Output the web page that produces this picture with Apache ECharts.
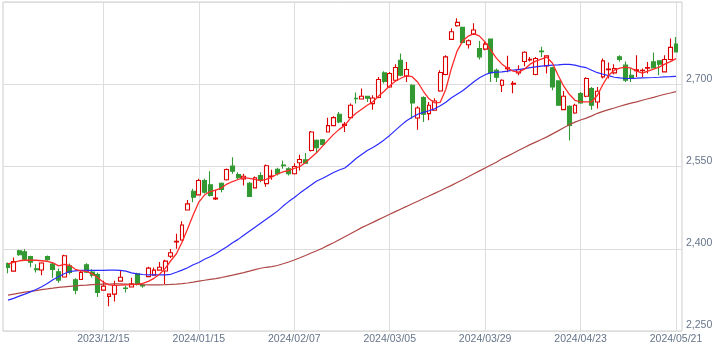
<!DOCTYPE html>
<html><head><meta charset="utf-8">
<script src="https://cdn.jsdelivr.net/npm/echarts@6/dist/echarts.min.js"></script>
<style>html,body{margin:0;padding:0;background:#fff}#c{width:725px;height:354px}</style>
</head><body><div id="c"></div>
<script>
const dates = [
'2023/11/21','2023/11/22','2023/11/24','2023/11/27','2023/11/28','2023/11/29','2023/11/30',
'2023/12/01','2023/12/04','2023/12/05','2023/12/06','2023/12/07','2023/12/08','2023/12/11','2023/12/12','2023/12/13','2023/12/14','2023/12/15',
'2023/12/18','2023/12/19','2023/12/20','2023/12/21','2023/12/22','2023/12/25','2023/12/26','2023/12/27','2023/12/28','2023/12/29',
'2024/01/04','2024/01/05','2024/01/09','2024/01/10','2024/01/11','2024/01/12','2024/01/15',
'2024/01/16','2024/01/17','2024/01/18','2024/01/19','2024/01/22','2024/01/23','2024/01/24','2024/01/25','2024/01/26','2024/01/29','2024/01/30','2024/01/31',
'2024/02/01','2024/02/02','2024/02/05','2024/02/06','2024/02/07',
'2024/02/08','2024/02/09','2024/02/13','2024/02/14','2024/02/15','2024/02/16','2024/02/19','2024/02/20','2024/02/21','2024/02/22','2024/02/26','2024/02/27','2024/02/28','2024/02/29',
'2024/03/01','2024/03/04','2024/03/05',
'2024/03/06','2024/03/07','2024/03/08','2024/03/11','2024/03/12','2024/03/13','2024/03/14','2024/03/15','2024/03/18','2024/03/19','2024/03/21','2024/03/22','2024/03/25','2024/03/26','2024/03/27','2024/03/28','2024/03/29',
'2024/04/01','2024/04/02','2024/04/03','2024/04/04','2024/04/05','2024/04/08','2024/04/09','2024/04/10','2024/04/11','2024/04/12','2024/04/15','2024/04/16','2024/04/17','2024/04/18','2024/04/19','2024/04/22','2024/04/23',
'2024/04/24','2024/04/25','2024/04/26','2024/04/30',
'2024/05/01','2024/05/02','2024/05/07','2024/05/08','2024/05/09','2024/05/10','2024/05/13','2024/05/14','2024/05/15','2024/05/16','2024/05/17','2024/05/20','2024/05/21'
];
const openV = [2373.1,2359.2,2396.4,2394.5,2386,2363.5,2361.2,2386,2372,2358,2348.5,2368.9,2343.3,2343.9,2370.8,2357.4,2353,2324.5,2313.2,2317.2,2341,2328.4,2330.2,2354.3,2334,2349.2,2351.9,2361.1,2359.3,2386.3,2412.3,2415.9,2470.8,2504.9,2498.3,2524.4,2516.5,2490.6,2519.5,2525.7,2550.6,2535.4,2527.5,2519.5,2511.1,2533.6,2518.7,2532,2545.1,2552.5,2545.8,2536.7,2556.8,2562.3,2579.3,2597.6,2598.9,2612.8,2624.5,2645.2,2625,2639.1,2674.5,2673.1,2678.1,2664.7,2675.7,2720.7,2695.1,2707.3,2743.9,2714.7,2698.2,2638.4,2675.7,2646.4,2652.5,2687.8,2717.8,2781.8,2806.7,2803.7,2771.9,2791,2765.3,2764.1,2782.3,2725.6,2698.2,2728.3,2700,2720.7,2741.6,2744.1,2717.8,2760.5,2733.5,2729.9,2706.1,2653.7,2659.8,2647.5,2683,2678.1,2692,2667.6,2713.4,2726.5,2720.7,2750,2734.8,2716.5,2724.7,2724.7,2729.3,2740.8,2742.7,2722.5,2745.2,2773.2];
const closeV = [2365.8,2376.8,2389.1,2380.8,2375.3,2362,2373.9,2379.9,2362.2,2342.8,2387.2,2357,2324.5,2357,2357.4,2351.9,2320.1,2331.8,2317.2,2332.9,2347.9,2327.5,2336,2335.4,2332,2364.7,2361.1,2366.2,2377.5,2392.7,2413.8,2443.4,2481.8,2493.9,2524.4,2503,2497,2492.4,2508,2544.5,2541.5,2529.4,2532.1,2495.2,2529.4,2524.4,2551.3,2532.7,2536.7,2551.5,2536.7,2550.1,2562.8,2556,2612.8,2584.2,2590.3,2624.5,2639.1,2631.1,2626.9,2661.6,2673.5,2678.1,2674.4,2675,2708.6,2705,2719.6,2730.6,2716.5,2726.9,2665.8,2656.7,2645.2,2661.6,2669.5,2721.4,2749.9,2795.7,2812.9,2776.3,2779.2,2798.8,2750,2773.2,2720.7,2712.8,2707.3,2730.2,2701.9,2726.9,2758.3,2745.3,2747,2759.5,2751.8,2695.1,2661.6,2678.1,2625,2661.6,2665.8,2710.5,2661.6,2687.2,2742.7,2727.5,2728.7,2745.2,2707.3,2710.5,2726.2,2725.6,2730.6,2729.9,2736.6,2745.2,2767.2,2759.1];
const lowV = [2355.5,2358.9,2387.2,2378.1,2366.2,2356.7,2351.5,2378.1,2347,2337.8,2347.9,2353.7,2317.2,2343.3,2356,2347.5,2312.2,2324.1,2295.2,2303.6,2340.6,2320.1,2329.3,2333.2,2329,2347.9,2350.6,2359.8,2335.4,2383,2400,2414.7,2470.4,2484.7,2497.9,2500.6,2495.2,2489.1,2503,2524.4,2536.7,2525.7,2515.3,2495.2,2509.8,2521.3,2513,2525.7,2533.6,2545.8,2533.6,2535.4,2542.7,2555.5,2577.5,2574.4,2588.4,2612.2,2623.2,2628.7,2612.8,2637.8,2664.7,2672.6,2667.6,2653.7,2674.4,2701.3,2693.6,2705.5,2714.7,2704.2,2637.3,2617.2,2631.1,2634.2,2651.6,2686.3,2716.5,2780.5,2804.9,2775,2765.3,2789.7,2745.2,2762.2,2704.2,2704.2,2685.9,2722,2683.6,2716.5,2732.6,2741.6,2716.5,2749.9,2719.6,2689.1,2660.7,2652.5,2597.6,2646,2664.3,2676.2,2653.7,2655.6,2710.5,2710.5,2718.3,2741.6,2704.2,2704.2,2713.4,2713.4,2719.6,2728.7,2716.5,2722,2743.9,2758];
const highV = [2374.9,2384.1,2398.2,2399.1,2387.2,2371.7,2375.4,2387.8,2374.4,2363.8,2389,2373.1,2346.4,2360.7,2373.5,2362.5,2356.7,2341.5,2317.7,2341.5,2359.8,2332.3,2347,2356.1,2336,2367.1,2365.8,2375.7,2379.9,2399.5,2427.5,2450,2489.1,2509.2,2527.5,2527.5,2541.5,2507.4,2520.8,2546.4,2567,2539.6,2536.7,2521.7,2531.7,2539.6,2553.7,2544,2547.7,2561,2548.8,2556,2571.4,2574.4,2614.6,2599.4,2600,2639.1,2641.5,2649.4,2631.1,2664.7,2684.8,2692.2,2679,2679.9,2713.4,2723.8,2722.5,2736.6,2756.2,2740.8,2700,2659.8,2678.1,2667.6,2674.4,2725.6,2753.1,2801.9,2820.2,2804.9,2781.8,2811.1,2778.7,2777.2,2783.6,2728.7,2709.2,2751.8,2706.1,2734.8,2760.2,2749.9,2749.9,2768.2,2753.1,2731.7,2707.3,2687.8,2661.6,2664.3,2686,2712.8,2695.1,2695.1,2747,2739.7,2736.6,2753.1,2741.6,2728.7,2753.1,2728.7,2740.8,2758,2743.9,2753.1,2783.6,2786];
const ma5 = [2372.6,2375.3,2378.1,2379,2379.4,2379,2378.1,2377.2,2374.4,2368.9,2371.7,2369.8,2362.5,2359.8,2358.9,2354.3,2347,2338.8,2334.2,2333.3,2333.6,2334.2,2334.7,2335.4,2336.9,2340.6,2346.1,2353.4,2364.3,2378.1,2390.9,2411.9,2436.6,2462.2,2485.1,2497.9,2504.3,2507,2510.7,2518,2522.6,2526.3,2529.9,2528.5,2526.6,2524.4,2526.6,2530.8,2536.3,2540,2542.7,2546.4,2550,2557.3,2566.5,2575.6,2586.6,2597.6,2608.6,2617.7,2625,2637.8,2647,2654.3,2661.6,2668,2678.1,2687.2,2697.3,2705.5,2711,2715.6,2713.8,2703.7,2687.2,2673.5,2666.2,2667.1,2690.9,2729.3,2760.4,2778.7,2787.8,2792.4,2787.8,2776.9,2762.2,2747.6,2736.6,2729.3,2723.8,2722,2727.5,2736.6,2742.1,2745.8,2749.4,2738.4,2716.5,2696.4,2681.7,2670.8,2668,2668,2668,2679.9,2700,2716.5,2725.6,2729.3,2731.1,2729.3,2723.8,2720.1,2723.8,2727.5,2731.1,2736.6,2741.2,2746.7];
const ma25 = [2306.2,2309.5,2313.5,2317.2,2321.4,2325.6,2330.6,2336.6,2343.4,2348.9,2354.3,2358.5,2359.8,2360.4,2360.4,2360.4,2360.4,2360.7,2361.1,2361.1,2360.7,2359.3,2356.1,2354.3,2353,2352.5,2352.5,2352.5,2352.5,2353.4,2357.1,2361.1,2365.3,2370.8,2375,2380.8,2385.4,2390.9,2397.3,2403.7,2411,2417.1,2424.8,2432.1,2439.4,2446.7,2454,2461.3,2468.6,2477.8,2486,2493.3,2501.5,2508.9,2516.2,2523.5,2528.1,2533.6,2539.1,2543.6,2547.3,2555.5,2564.7,2572,2579.3,2584.8,2591.2,2598.5,2606.7,2615.9,2625,2633.3,2639.7,2645.2,2648.8,2651.6,2655.2,2660.7,2667.1,2675.3,2681.7,2688.1,2696.4,2704.6,2711.9,2717.4,2721.1,2722,2722.5,2723.8,2725.6,2726.6,2728.4,2730.2,2731.7,2733,2733.9,2734.8,2735.3,2736.1,2736.1,2734.8,2732.1,2730.2,2725.6,2721.1,2718.3,2715.6,2712.8,2711.6,2710.5,2710.5,2711,2711.6,2711.9,2712.3,2712.8,2713.4,2713.8,2714.3];
const ma75 = [2315.3,2317.2,2319,2320.8,2322.3,2323.7,2325.6,2326.8,2328.1,2329.6,2330.5,2331.4,2332.3,2333.3,2333.8,2334.5,2335.1,2335.4,2335.6,2335.8,2335.8,2335.6,2335.3,2334.9,2334.5,2334.2,2334.2,2334.2,2334.4,2334.9,2335.6,2336.4,2337.5,2339.1,2340.9,2342.6,2344.1,2345.5,2347.5,2349.7,2351.9,2354.3,2356.5,2359.2,2362,2364.4,2366.2,2367.5,2369.5,2372.6,2375.9,2379.5,2383.6,2387.8,2392.2,2396.4,2401,2406.1,2411,2416.5,2422,2427.5,2433,2438.5,2443.4,2448.1,2453.1,2458,2462.8,2467.7,2472.5,2477.2,2482,2486.7,2491.5,2496.2,2501,2505.8,2510.7,2515.6,2520.8,2525.9,2531.2,2536.7,2542,2547.3,2552.6,2557.9,2564.1,2568.9,2574.2,2579.7,2584.8,2589.9,2594.5,2599.1,2604,2609.5,2615,2620.8,2626.3,2630.9,2634.7,2638.2,2642.4,2647,2650.6,2653.8,2656.7,2659.8,2662.9,2665.6,2668,2670.8,2673.5,2676.2,2679,2681.7,2684.1,2686.6];
const yMin = 2250, yMax = 2850, yStep = 150;
const labelEvery = 17;

const candles = dates.map((d, i) => [openV[i], closeV[i], lowV[i], highV[i]]);
const labelColor = '#66748a';
const font = 'Liberation Sans, Arial, sans-serif';
const showIdx = (i) => i > 0 && i % labelEvery === 0;

const chart = echarts.init(document.getElementById('c'), null, {renderer: 'canvas'});
chart.setOption({
  animation: false,
  backgroundColor: '#ffffff',
  grid: [
    {left: 3, top: 2, width: 679, height: 329, show: true, borderColor: '#cccccc', borderWidth: 1, backgroundColor: 'transparent'},
    {left: 5.2, top: 2, width: 673.6, height: 329}
  ],
  xAxis: [
    {type: 'value', gridIndex: 0, show: false, min: 0, max: 1},
    {type: 'category', gridIndex: 1, data: dates, boundaryGap: true,
     axisLine: {show: false}, axisTick: {show: false},
     axisLabel: {interval: (i) => showIdx(i), color: labelColor, fontSize: 10.5, fontFamily: font, margin: 3},
     splitLine: {show: true, interval: (i) => showIdx(i), alignWithLabel: true, lineStyle: {color: '#dddddd', width: 1}}}
  ],
  yAxis: [
    {type: 'value', gridIndex: 0, position: 'right', min: yMin, max: yMax, interval: yStep,
     axisLine: {show: false}, axisTick: {show: false},
     splitLine: {show: true, lineStyle: {color: '#dddddd', width: 1}},
     axisLabel: {showMaxLabel: false, color: labelColor, fontSize: 10.5, fontFamily: font, margin: 4, verticalAlign: 'bottom',
       formatter: (v) => v === yMax ? '' : v.toLocaleString('en-US')}},
    {type: 'value', gridIndex: 1, min: yMin, max: yMax, show: false}
  ],
  series: [
    {type: 'candlestick', xAxisIndex: 1, yAxisIndex: 1, data: candles, barWidth: 4.4,
     itemStyle: {color: '#ffffff', color0: '#339933', borderColor: '#dd0000', borderColor0: '#339933', borderWidth: 1.1}},
    {type: 'line', xAxisIndex: 1, yAxisIndex: 1, data: ma75, symbol: 'none', lineStyle: {color: '#b04848', width: 1.2}},
    {type: 'line', xAxisIndex: 1, yAxisIndex: 1, data: ma25, symbol: 'none', lineStyle: {color: '#2b2bff', width: 1.2}},
    {type: 'line', xAxisIndex: 1, yAxisIndex: 1, data: ma5, symbol: 'none', lineStyle: {color: '#ff2a2a', width: 1.3}}
  ]
});
</script></body></html>
